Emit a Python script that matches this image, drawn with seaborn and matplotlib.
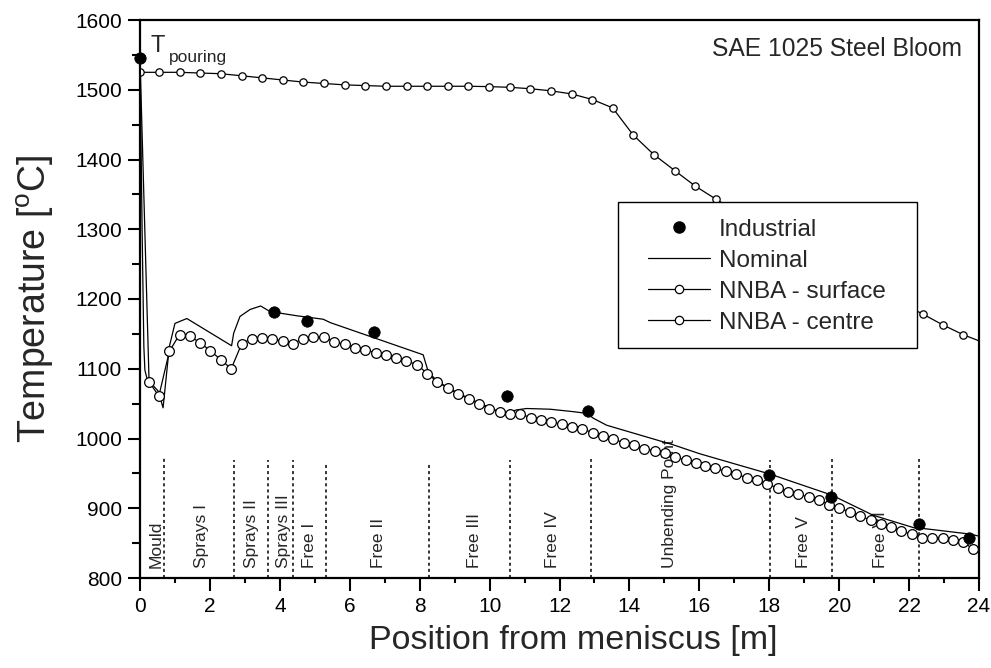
import numpy as np
import matplotlib
matplotlib.use("Agg")
import matplotlib.pyplot as plt
from matplotlib.lines import Line2D
from matplotlib.patches import Rectangle
import seaborn as sns

# ---------------- data ----------------
industrial_x = [0.0, 3.83, 4.78, 6.69, 10.5, 12.81, 17.99, 19.77, 22.28, 23.72]
industrial_t = [1545, 1181, 1168, 1153, 1061, 1039, 948, 916, 877, 857]

nominal_x = [0.0, 0.06, 0.11, 0.14, 0.2, 0.3, 0.52, 0.66, 0.84, 1.0, 1.34, 2.62,
             2.68, 2.86, 3.15, 3.45, 3.72, 4.48, 5.24, 5.45, 8.10, 8.25, 8.51,
             8.81, 9.10, 9.40, 9.69, 9.99, 10.39, 10.77, 11.06, 11.73, 12.39,
             12.78, 12.97, 13.35, 14.30, 15.25, 16.02, 18.02, 19.78, 20.97,
             22.27, 22.4, 23.74, 24.0]
nominal_t = [1545, 1300, 1132, 1098, 1086, 1080, 1068, 1044, 1132, 1165, 1172, 1133,
             1151, 1175, 1185, 1190, 1182, 1176, 1171, 1166, 1120, 1095, 1082,
             1073, 1065, 1058, 1051, 1045, 1035, 1041, 1043, 1042, 1038.5,
             1036, 1029, 1019, 1005, 991, 978, 949, 919, 890,
             870, 871, 863, 860]

surface_x = [0.0, 0.54, 1.13, 1.72, 2.31, 2.91, 3.50, 4.08, 4.67, 5.26, 5.85, 6.44,
             7.04, 7.63, 8.21, 8.80, 9.39, 9.98, 10.57, 11.16, 11.75, 12.35,
             12.94, 13.52, 14.11, 14.70, 15.30, 15.88, 16.48, 17.07, 17.66,
             18.25, 18.83, 19.42, 20.01, 20.60, 21.19, 21.78, 22.39, 22.96,
             23.54, 24.0]
surface_t = [1525, 1525, 1525, 1524, 1523, 1520, 1517, 1514, 1511, 1509, 1507, 1506,
             1505, 1505, 1505, 1505, 1505, 1504.5, 1503.5, 1501.5, 1498.5, 1494,
             1486, 1474, 1435, 1407, 1384, 1362, 1343, 1325, 1307,
             1290, 1273, 1257, 1241, 1225, 1209, 1194, 1178.5, 1163,
             1149, 1140]

centre_x = [0.0, 0.26, 0.54, 0.84, 1.13, 1.43, 1.72, 2.01, 2.31, 2.61, 2.91, 3.19,
            3.49, 3.78, 4.08, 4.37, 4.66, 4.96, 5.26, 5.56, 5.85, 6.15, 6.44,
            6.74, 7.03, 7.32, 7.62, 7.92, 8.22, 8.51, 8.81, 9.10, 9.40, 9.69,
            9.99, 10.29, 10.58, 10.87, 11.18, 11.47, 11.76, 12.06, 12.36, 12.65,
            12.95, 13.24, 13.54, 13.84, 14.13, 14.43, 14.73, 15.02, 15.31,
            15.61, 15.90, 16.16, 16.45, 16.75, 17.05, 17.35, 17.64, 17.94,
            18.24, 18.54, 18.83, 19.14, 19.42, 19.72, 20.00, 20.31, 20.60,
            20.90, 21.19, 21.48, 21.78, 22.07, 22.37, 22.66, 22.96, 23.26,
            23.55, 23.84]
centre_t = [1545, 1081, 1061, 1125, 1149, 1147, 1137, 1126, 1113, 1100, 1136, 1143,
            1144, 1142, 1140, 1136, 1143, 1145, 1145, 1139, 1135, 1130, 1127,
            1123, 1119, 1115, 1111, 1106, 1093, 1081, 1072, 1064, 1057, 1050,
            1043, 1038.5, 1035, 1035, 1030, 1027, 1024, 1020.5, 1017, 1013.5,
            1008.5, 1003, 999, 994, 990, 985.5, 982, 979, 973,
            969, 965, 961, 957, 953, 949, 944, 941, 935,
            929, 924, 920, 916, 912, 905, 900, 895, 889,
            883, 878, 873, 867, 863, 858, 858, 858, 855,
            852, 841]

zone_bounds = [0.70, 2.70, 3.65, 4.39, 5.31, 8.27, 10.58, 12.90, 18.02, 19.79, 22.28]
zone_tops = [975, 969, 969, 969, 967, 966, 969, 970, 969, 970, 970]
zone_names = ['Mould', 'Sprays I', 'Sprays II', 'Sprays III', 'Free I', 'Free II',
              'Free III', 'Free IV', 'Unbending Point', 'Free V', 'Free VI']
zone_label_x = [0.45, 1.76, 3.19, 4.10, 4.86, 6.82, 9.58, 11.80, 15.16, 18.97, 21.17]

legend_labels = ['Industrial', 'Nominal', 'NNBA - surface', 'NNBA - centre']

# ---------------- style ----------------
sns.set_style("ticks")
plt.rcParams['font.family'] = ['Liberation Sans', 'DejaVu Sans']
plt.rcParams['mathtext.fontset'] = 'custom'
plt.rcParams['mathtext.rm'] = 'Liberation Sans'
plt.rcParams['mathtext.it'] = 'Liberation Sans:italic'

fig = plt.figure(figsize=(9.91, 6.68), dpi=100)
ax = fig.add_axes([140 / 991, 1 - 578 / 668, 839 / 991, 558 / 668])

# zone boundaries and labels
ax.vlines(zone_bounds, 800, zone_tops, colors='k', linestyles=(0, (2, 2)), lw=1.1, zorder=1)
for name, xp in zip(zone_names, zone_label_x):
    ax.text(xp, 814, name, rotation=90, ha='center', va='bottom', fontsize=12.5, zorder=1)

# nominal line
sns.lineplot(x=nominal_x, y=nominal_t, sort=False, estimator=None, color='k', lw=0.9,
             ax=ax, zorder=3)
# NNBA surface
sns.lineplot(x=surface_x, y=surface_t, sort=False, estimator=None, color='k', lw=0.9,
             marker='o', ms=5.3, mfc='w', mec='k', mew=0.9,
             markevery=list(range(len(surface_x) - 1)), ax=ax, zorder=3)
# NNBA centre
sns.lineplot(x=centre_x, y=centre_t, sort=False, estimator=None, color='k', lw=0.9,
             marker='o', ms=7, mfc='w', mec='k', mew=0.9, ax=ax, zorder=3)
# Industrial
sns.scatterplot(x=industrial_x, y=industrial_t, color='k', s=68, edgecolor='k',
                linewidth=0.5, ax=ax, zorder=4, clip_on=False)

ax.set_xlim(0, 24)
ax.set_ylim(800, 1600)
ax.set_xticks(np.arange(0, 25, 2))
ax.set_xticks(np.arange(0, 25, 1), minor=True)
ax.set_yticks(np.arange(800, 1601, 100))
ax.set_yticks(np.arange(800, 1601, 50), minor=True)
ax.tick_params(which='both', direction='out', width=1.5, colors='k', labelsize=15)
ax.tick_params(which='major', length=9)
ax.tick_params(axis='x', which='minor', length=3.8)
ax.tick_params(axis='y', which='minor', length=5.5)
ax.tick_params(axis='x', pad=5)
ax.tick_params(axis='y', pad=4)
for s in ax.spines.values():
    s.set_linewidth(1.6)
    s.set_color('k')
    s.set_visible(True)

ax.set_xlabel('Position from meniscus [m]', fontsize=24.5)
ax.xaxis.set_label_coords(0.5167, -0.085)
ax.set_ylabel(r'Temperature [$^{\rm o}$C]', fontsize=27, labelpad=14)

# annotations
ax.text(23.51, 1548, 'SAE 1025 Steel Bloom', ha='right', va='baseline', fontsize=17.7)
ax.text(0.30, 1554, 'T', ha='left', va='baseline', fontsize=17)
ax.text(0.83, 1540, 'pouring', ha='left', va='baseline', fontsize=12.5)

# legend box + legend
ax.add_patch(Rectangle((0.5697, 0.412), 0.3564, 0.262, transform=ax.transAxes,
                       facecolor='white', edgecolor='k', lw=1.0, zorder=4.5))
handles = [
    Line2D([], [], ls='none', marker='o', ms=8, mfc='k', mec='k'),
    Line2D([], [], color='k', lw=0.9),
    Line2D([], [], color='k', lw=0.9, marker='o', ms=6, mfc='w', mec='k', mew=0.9),
    Line2D([], [], color='k', lw=0.9, marker='o', ms=6, mfc='w', mec='k', mew=0.9),
]
leg = ax.legend(handles, legend_labels, loc='upper left', bbox_to_anchor=(0.6055, 0.644),
                frameon=False, fontsize=17.5, handlelength=2.55, handletextpad=0.37,
                borderpad=0, labelspacing=0.37, borderaxespad=0)
leg.set_zorder(5)

fig.savefig('out.png', dpi=100)
